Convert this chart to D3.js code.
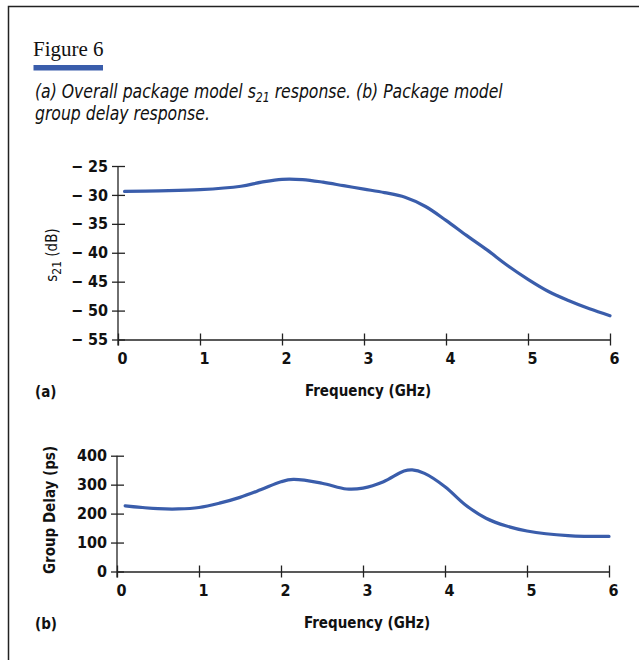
<!DOCTYPE html>
<html>
<head>
<meta charset="utf-8">
<script src="https://cdn.jsdelivr.net/npm/d3@7"></script>
<style>
  body { margin: 0; background: #fff; }
  .tick text { font-family: "DejaVu Sans Condensed", "DejaVu Sans", sans-serif; font-stretch: condensed; font-weight: bold; font-size: 16px; fill: #111; }
  .tick line, .domain { stroke: #222; stroke-width: 1.3; }
  .lbl { font-family: "DejaVu Sans Condensed", "DejaVu Sans", sans-serif; font-stretch: condensed; font-weight: bold; font-size: 15px; fill: #111; }
</style>
</head>
<body>
<div id="chart"></div>
<script>
// (a) s21 response
var freqA = [0.08, 0.5, 1, 1.5, 1.75, 2, 2.25, 2.5, 2.75, 3, 3.25, 3.5, 3.75, 4, 4.25, 4.5, 4.75, 5, 5.25, 5.5, 5.75, 6];
var s21Db = [-29.4, -29.3, -29.1, -28.5, -27.8, -27.3, -27.35, -27.8, -28.4, -29.0, -29.6, -30.4, -32.0, -34.4, -37.0, -39.5, -42.2, -44.6, -46.7, -48.3, -49.7, -50.9];

// (b) group delay response
var freqB = [0.1, 0.5, 0.75, 1, 1.25, 1.5, 1.75, 2, 2.15, 2.5, 2.8, 3, 3.25, 3.5, 3.6, 3.75, 4, 4.25, 4.5, 4.75, 5, 5.5, 6];
var delayPs = [227, 217, 216, 221, 236, 256, 282, 310, 318, 305, 285, 288, 310, 347, 351, 339, 293, 230, 184, 157, 140, 124, 121];

var freqTicks = [0, 1, 2, 3, 4, 5, 6];
var s21Ticks = [-25, -30, -35, -40, -45, -50, -55];
var delayTicks = [0, 100, 200, 300, 400];

var blue = "#3a5dab";

var svg = d3.select("#chart").append("svg")
    .attr("width", 639)
    .attr("height", 660);

// frame (only top and left edges are in view)
svg.append("path")
    .attr("d", "M8.5,660 L8.5,6.5 L639,6.5")
    .attr("fill", "none")
    .attr("stroke", "#222")
    .attr("stroke-width", 1.5);

// heading
svg.append("text")
    .attr("x", 33)
    .attr("y", 56)
    .style("font-family", "Liberation Serif, serif")
    .style("font-size", "21px")
    .style("fill", "#111")
    .text("Figure 6");

svg.append("rect")
    .attr("x", 33.5).attr("y", 65)
    .attr("width", 69.5).attr("height", 5.5)
    .attr("fill", blue);

// caption, squeezed horizontally to the narrow face of the original
var cap = svg.append("g")
    .attr("transform", "translate(35,0) scale(0.87,1)")
    .style("font-family", "DejaVu Sans Condensed, DejaVu Sans, sans-serif")
    .style("font-stretch", "condensed")
    .style("font-style", "italic")
    .style("font-size", "20px")
    .style("fill", "#111");

var l1 = cap.append("text").attr("x", 0).attr("y", 98);
l1.append("tspan").text("(a) Overall package model s");
l1.append("tspan").attr("dy", 4).style("font-size", "14px").text("21");
l1.append("tspan").attr("dy", -4).text(" response. (b) Package model");

cap.append("text").attr("x", 0).attr("y", 120).text("group delay response.");

// draws one panel
function panel(o) {
    var x = d3.scaleLinear().domain([0, 6]).range(o.xr);
    var y = d3.scaleLinear().domain(o.yd).range(o.yr);
    var g = svg.append("g");

    var yAxis = d3.axisLeft(y)
        .tickValues(o.yTicks)
        .tickSizeInner(0)
        .tickSizeOuter(0)
        .tickPadding(10)
        .tickFormat(o.fmt);

    var ya = g.append("g")
        .attr("transform", "translate(" + o.xr[0] + ",0)")
        .call(yAxis);
    ya.selectAll(".tick line").attr("x1", -6).attr("x2", 7);

    var xAxis = d3.axisBottom(x)
        .tickValues(freqTicks)
        .tickSizeInner(0)
        .tickSizeOuter(0)
        .tickPadding(13)
        .tickFormat(d3.format("d"));

    var xa = g.append("g")
        .attr("transform", "translate(0," + o.yr[0] + ")")
        .call(xAxis);
    xa.selectAll(".tick line").attr("y1", -6).attr("y2", 6);
    xa.selectAll(".tick text").attr("dx", 4);
    ya.select(".domain").remove();
    g.append("line")
        .attr("x1", o.xr[0]).attr("x2", o.xr[0])
        .attr("y1", o.yr[1]).attr("y2", o.yr[0] + 6)
        .attr("stroke", "#222").attr("stroke-width", 1.3);

    var line = d3.line()
        .x(function(d) { return x(d[0]); })
        .y(function(d) { return y(d[1]); })
        .curve(d3.curveCatmullRom.alpha(0.5));

    g.append("path")
        .datum(d3.zip(o.xs, o.ys))
        .attr("d", line)
        .attr("fill", "none")
        .attr("stroke", blue)
        .attr("stroke-width", 3.2)
        .attr("stroke-linecap", "round");

    g.append("text")
        .attr("class", "lbl")
        .attr("x", x(3) + 4)
        .attr("y", o.yr[0] + 56)
        .attr("text-anchor", "middle")
        .text("Frequency (GHz)");

    g.append("text")
        .attr("class", "lbl")
        .attr("x", 35)
        .attr("y", o.yr[0] + 57)
        .text(o.tag);

    return g;
}

var ga = panel({
    xr: [118, 610], yd: [-55, -25], yr: [339.5, 166],
    yTicks: s21Ticks, xs: freqA, ys: s21Db, tag: "(a)",
    fmt: function(d) { return "\u2212 " + Math.abs(d); }
});

var ya = ga.append("text")
    .attr("class", "lbl")
    .style("font-weight", "normal")
    .attr("transform", "translate(57,255) rotate(-90)")
    .attr("text-anchor", "middle");
ya.append("tspan").text("s");
ya.append("tspan").attr("dy", 4).style("font-size", "12px").text("21");
ya.append("tspan").attr("dy", -4).text(" (dB)");

var gb = panel({
    xr: [117, 609], yd: [0, 400], yr: [571.5, 455.7],
    yTicks: delayTicks, xs: freqB, ys: delayPs, tag: "(b)",
    fmt: d3.format("d")
});

gb.append("text")
    .attr("class", "lbl")
    .attr("transform", "translate(55,510) rotate(-90)")
    .attr("text-anchor", "middle")
    .text("Group Delay (ps)");
</script>
</body>
</html>
